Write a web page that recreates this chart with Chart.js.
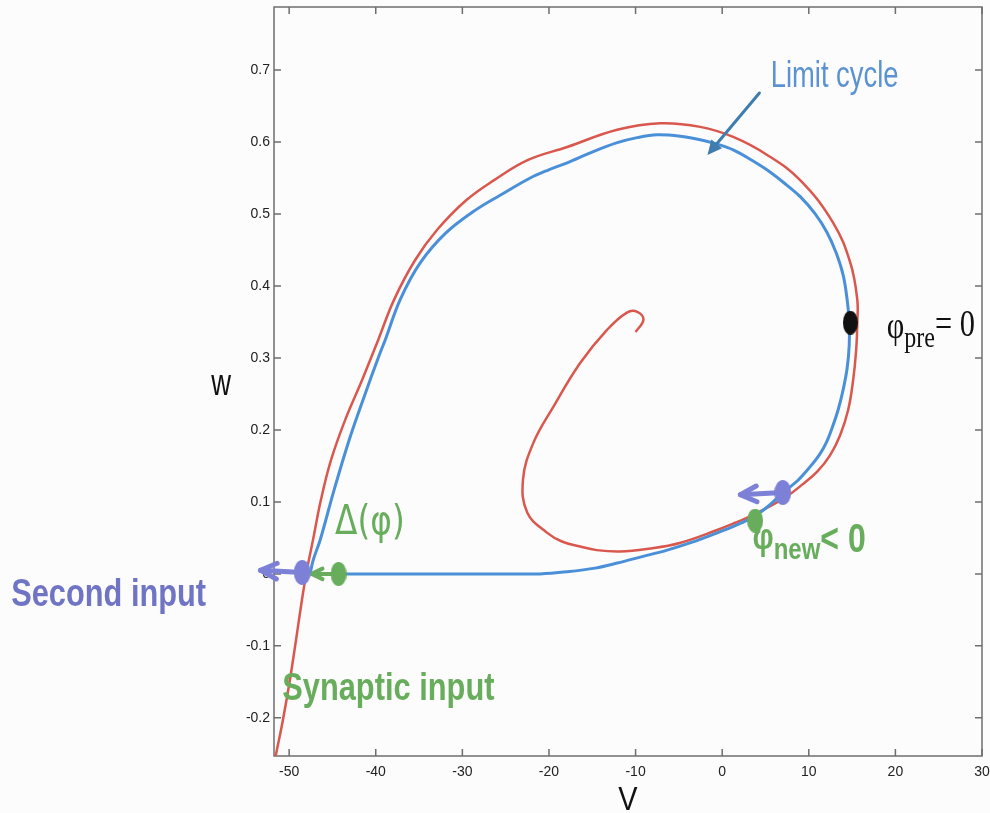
<!DOCTYPE html>
<html>
<head>
<meta charset="utf-8">
<script src="https://cdn.jsdelivr.net/npm/chart.js@4.4.1/dist/chart.umd.min.js"></script>
<style>
    html, body { margin: 0; padding: 0; background: #fcfcfc; }
    #wrap { width: 990px; height: 813px; }
</style>
</head>
<body>
<div id="wrap"><canvas id="chart" width="990" height="813"></canvas></div>
<script>
// Limit cycle (blue), starting at the lower left corner and going round
const cycleV = [-47.58, -44.11, -37.18, -31.41, -25.64, -21.02, -17.90, -14.67, -12.12, -9.24, -6.35, -3.46, -0.58, 1.50, 3.58, 5.31, 7.04, 8.66, 10.16, 11.20, 12.01, 12.70, 13.39, 13.97, 14.43, 14.67, 14.67, 14.43, 13.97, 13.16, 12.12, 10.74, 9.01, 7.16, 5.20, 3.23, 1.27, -0.58, -2.54, -4.85, -7.51, -9.82, -12.12, -15.01, -17.90, -20.09, -22.17, -25.64, -28.41, -31.87, -34.87, -37.18, -38.91, -39.72, -41.34, -43.07, -44.80, -46.42, -47.23, -47.58];
const cycleW = [0.0, 0.0, 0.0, 0.0, 0.0, 0.0, 0.003, 0.008, 0.015, 0.024, 0.033, 0.044, 0.057, 0.067, 0.079, 0.094, 0.113, 0.129, 0.149, 0.165, 0.182, 0.203, 0.228, 0.256, 0.286, 0.318, 0.349, 0.381, 0.415, 0.446, 0.474, 0.500, 0.524, 0.543, 0.561, 0.576, 0.589, 0.597, 0.603, 0.608, 0.610, 0.606, 0.599, 0.586, 0.571, 0.561, 0.550, 0.526, 0.506, 0.474, 0.432, 0.381, 0.325, 0.300, 0.246, 0.186, 0.117, 0.047, 0.019, 0.0];

// Perturbed trajectory (red), spiralling in to the fixed point
const trajV = [-51.96, -51.52, -50.72, -49.91, -49.21, -48.52, -47.94, -47.25, -46.33, -45.17, -43.53, -41.59, -39.72, -37.88, -35.45, -32.91, -29.56, -26.33, -22.41, -17.90, -12.13, -7.16, -2.54, 1.27, 5.19, 9.0, 12.8, 14.8, 15.6, 15.6, 15.47, 15.12, 14.55, 13.63, 12.47, 10.97, 9.24, 7.51, 5.54, 3.58, 1.50, -0.58, -4.9, -8.5, -11.8, -14.5, -16.4, -18.5, -20.2, -22.5, -23.0, -21.8, -19.5, -16.4, -13.3, -11.0, -9.8, -9.1, -10.0];
const trajW = [-0.279, -0.251, -0.203, -0.147, -0.092, -0.036, 0.006, 0.047, 0.103, 0.158, 0.214, 0.269, 0.325, 0.381, 0.436, 0.478, 0.519, 0.547, 0.575, 0.593, 0.617, 0.626, 0.621, 0.607, 0.582, 0.547, 0.488, 0.432, 0.381, 0.349, 0.311, 0.269, 0.228, 0.193, 0.165, 0.142, 0.124, 0.108, 0.094, 0.082, 0.071, 0.061, 0.043, 0.035, 0.031, 0.033, 0.038, 0.045, 0.057, 0.085, 0.131, 0.182, 0.232, 0.293, 0.339, 0.363, 0.364, 0.353, 0.336];

// Axes
const vTicks = [-50, -40, -30, -20, -10, 0, 10, 20, 30];
const wTicks = [-0.2, -0.1, 0, 0.1, 0.2, 0.3, 0.4, 0.5, 0.6, 0.7];
const wTickLabels = ['-0.2', '-0.1', '0', '0.1', '0.2', '0.3', '0.4', '0.5', '0.6', '0.7'];

// Marked points [V, w]
const secondInputPts = [[-48.5, 0.002], [7.0, 0.113]];
const synapticPts = [[-44.3, 0.0], [3.8, 0.074]];
const prePhasePt = [[14.8, 0.349]];

// Arrows [V0, w0, V1, w1]
const secondInputArrows = [[-48.5, 0.002, -53.3, 0.005], [7.0, 0.113, 2.1, 0.110]];
const synapticArrows = [[-44.3, 0.0, -47.4, 0.0]];
const cycleArrow = [[4.3, 0.668, -1.7, 0.582]];

const RED = '#d9574c';
const BLUE = '#4a90d9';
const PURPLE = '#7c80d6';
const GREEN = '#67ad5b';
const STEEL = '#3f7cb0';

function toXY(v, w) {
    return v.map((x, i) => ({ x: x, y: w[i] }));
}

function pts(list) {
    return list.map(p => ({ x: p[0], y: p[1] }));
}

// oval dot sprite (figure is horizontally squashed)
function dot(color, w, h) {
    const c = document.createElement('canvas');
    c.width = w;
    c.height = h;
    const g = c.getContext('2d');
    g.fillStyle = color;
    g.beginPath();
    g.ellipse(w / 2, h / 2, w / 2, h / 2, 0, 0, Math.PI * 2);
    g.fill();
    return c;
}

function arrow(ctx, x0, y0, x1, y1, color, width, head, filled) {
    const a = Math.atan2(y1 - y0, x1 - x0);
    ctx.save();
    ctx.strokeStyle = color;
    ctx.fillStyle = color;
    ctx.lineWidth = width;
    ctx.lineCap = 'round';
    ctx.lineJoin = 'round';
    ctx.beginPath();
    ctx.moveTo(x0, y0);
    ctx.lineTo(filled ? x1 - head * 0.6 * Math.cos(a) : x1, filled ? y1 - head * 0.6 * Math.sin(a) : y1);
    ctx.stroke();
    ctx.beginPath();
    ctx.moveTo(x1 - head * Math.cos(a - 0.45), y1 - head * Math.sin(a - 0.45));
    ctx.lineTo(x1, y1);
    ctx.lineTo(x1 - head * Math.cos(a + 0.45), y1 - head * Math.sin(a + 0.45));
    if (filled) {
        ctx.closePath();
        ctx.fill();
    } else {
        ctx.stroke();
    }
    ctx.restore();
}

// text made of runs: [text, font, dy], squeezed horizontally like the source figure
function rich(ctx, x, y, runs, color, align, sq) {
    ctx.save();
    ctx.fillStyle = color;
    ctx.textBaseline = 'alphabetic';
    ctx.textAlign = 'left';
    let total = 0;
    runs.forEach(r => { ctx.font = r[1]; total += ctx.measureText(r[0]).width * sq; });
    let cx = align === 'center' ? x - total / 2 : x;
    runs.forEach(r => {
        ctx.font = r[1];
        ctx.save();
        ctx.translate(cx, y + (r[2] || 0));
        ctx.scale(sq, 1);
        ctx.fillText(r[0], 0, 0);
        ctx.restore();
        cx += ctx.measureText(r[0]).width * sq;
    });
    ctx.restore();
}

const notes = [
    { at: [5.6, 0.676], color: '#5a92d2', sq: 0.74, runs: [['Limit cycle', '37px "Liberation Sans"']] },
    { at: [-82.1, -0.044], color: '#6f74c4', sq: 0.81, runs: [['Second input', 'bold 38px "Liberation Sans"']] },
    { at: [-50.8, -0.175], color: GREEN, sq: 0.79, runs: [['Synaptic input', 'bold 39px "Liberation Sans"']] },
    { at: [-44.7, 0.056], color: GREEN, sq: 0.82, runs: [['Δ(φ)', '40px "DejaVu Sans"']] },
    { at: [19.0, 0.328], color: '#111', sq: 0.8, runs: [['φ', '38px "Liberation Serif"'], ['pre', '30px "Liberation Serif"', 9], ['= 0', '38px "Liberation Serif"', -2]] },
    { at: [3.5, 0.035], color: GREEN, sq: 0.8, runs: [['φ', 'bold 37px "Liberation Sans"'], ['new', 'bold 30px "Liberation Sans"', 10], ['< 0', 'bold 40px "Liberation Sans"', 3]] },
    { at: [-10.9, -0.328], color: '#111', sq: 0.85, align: 'center', runs: [['V', '34px "Liberation Sans"']] },
    { at: [-57.85, 0.249], color: '#111', sq: 0.76, align: 'center', runs: [['w', '36px "Liberation Sans"']] }
];

const figurePlugin = {
    id: 'figure',
    beforeDatasetsDraw(chart) {
        const { ctx, chartArea: a, scales: { x, y } } = chart;
        ctx.save();
        ctx.strokeStyle = '#6e6e6e';
        ctx.lineWidth = 1.5;
        ctx.strokeRect(a.left, a.top, a.right - a.left, a.bottom - a.top);
        ctx.beginPath();
        vTicks.forEach(v => {
            const px = x.getPixelForValue(v);
            ctx.moveTo(px, a.bottom); ctx.lineTo(px, a.bottom - 7);
            ctx.moveTo(px, a.top); ctx.lineTo(px, a.top + 7);
        });
        wTicks.forEach(w => {
            const py = y.getPixelForValue(w);
            ctx.moveTo(a.left, py); ctx.lineTo(a.left + 7, py);
            ctx.moveTo(a.right, py); ctx.lineTo(a.right - 7, py);
        });
        ctx.stroke();
        ctx.restore();
    },
    afterDatasetDraw(chart, args) {
        if (chart.data.datasets[args.index].label !== 'Limit cycle') return;
        const { ctx, scales: { x, y } } = chart;
        const draw = (list, color, width, head, filled) => list.forEach(r => {
            arrow(ctx, x.getPixelForValue(r[0]), y.getPixelForValue(r[1]),
                x.getPixelForValue(r[2]), y.getPixelForValue(r[3]), color, width, head, filled);
        });
        draw(synapticArrows, GREEN, 4, 12, false);
        draw(secondInputArrows, PURPLE, 5, 18, false);
        draw(cycleArrow, STEEL, 3, 16, true);
    },
    afterDraw(chart) {
        const { ctx, scales: { x, y } } = chart;
        notes.forEach(n => {
            rich(ctx, x.getPixelForValue(n.at[0]), y.getPixelForValue(n.at[1]), n.runs, n.color, n.align, n.sq);
        });
    }
};

const ctx = document.getElementById('chart').getContext('2d');
new Chart(ctx, {
    type: 'scatter',
    data: {
        datasets: [
            {
                label: 'Second input',
                data: pts(secondInputPts),
                pointStyle: dot(PURPLE, 17, 25),
                pointRadius: 12,
                order: 1,
                clip: false
            },
            {
                label: 'Synaptic input',
                data: pts(synapticPts),
                pointStyle: dot(GREEN, 16, 24),
                pointRadius: 12,
                order: 1,
                clip: false
            },
            {
                label: 'phi pre',
                data: pts(prePhasePt),
                pointStyle: dot('#111111', 15, 24),
                pointRadius: 12,
                order: 1,
                clip: false
            },
            {
                label: 'Limit cycle',
                data: toXY(cycleV, cycleW),
                showLine: true,
                borderColor: BLUE,
                borderWidth: 3,
                pointRadius: 0,
                tension: 0.35,
                order: 2
            },
            {
                label: 'Trajectory',
                data: toXY(trajV, trajW),
                showLine: true,
                borderColor: RED,
                borderWidth: 2.5,
                pointRadius: 0,
                tension: 0.4,
                order: 3
            }
        ]
    },
    options: {
        responsive: false,
        animation: false,
        devicePixelRatio: 1,
        layout: { autoPadding: false, padding: { left: 0, top: 7, right: 8, bottom: 0 } },
        plugins: {
            legend: { display: false },
            tooltip: { enabled: false }
        },
        scales: {
            x: {
                type: 'linear',
                min: -51.75,
                max: 30,
                afterBuildTicks: s => { s.ticks = vTicks.map(v => ({ value: v })); },
                afterFit: s => { s.height = 57; s.paddingLeft = 0; s.paddingRight = 0; },
                grid: { display: false, drawTicks: false },
                border: { display: false },
                ticks: {
                    autoSkip: false,
                    maxRotation: 0,
                    padding: 8,
                    color: '#222',
                    font: { family: 'Liberation Sans', size: 14 },
                    callback: v => String(v)
                }
            },
            y: {
                type: 'linear',
                min: -0.253,
                max: 0.7875,
                afterBuildTicks: s => { s.ticks = wTicks.map(v => ({ value: v })); },
                afterFit: s => { s.width = 274; s.paddingTop = 0; s.paddingBottom = 0; },
                grid: { display: false, drawTicks: false },
                border: { display: false },
                ticks: {
                    autoSkip: false,
                    padding: 4,
                    color: '#222',
                    font: { family: 'Liberation Sans', size: 14 },
                    callback: (v, i) => wTickLabels[i]
                }
            }
        }
    },
    plugins: [figurePlugin]
});
</script>
</body>
</html>
